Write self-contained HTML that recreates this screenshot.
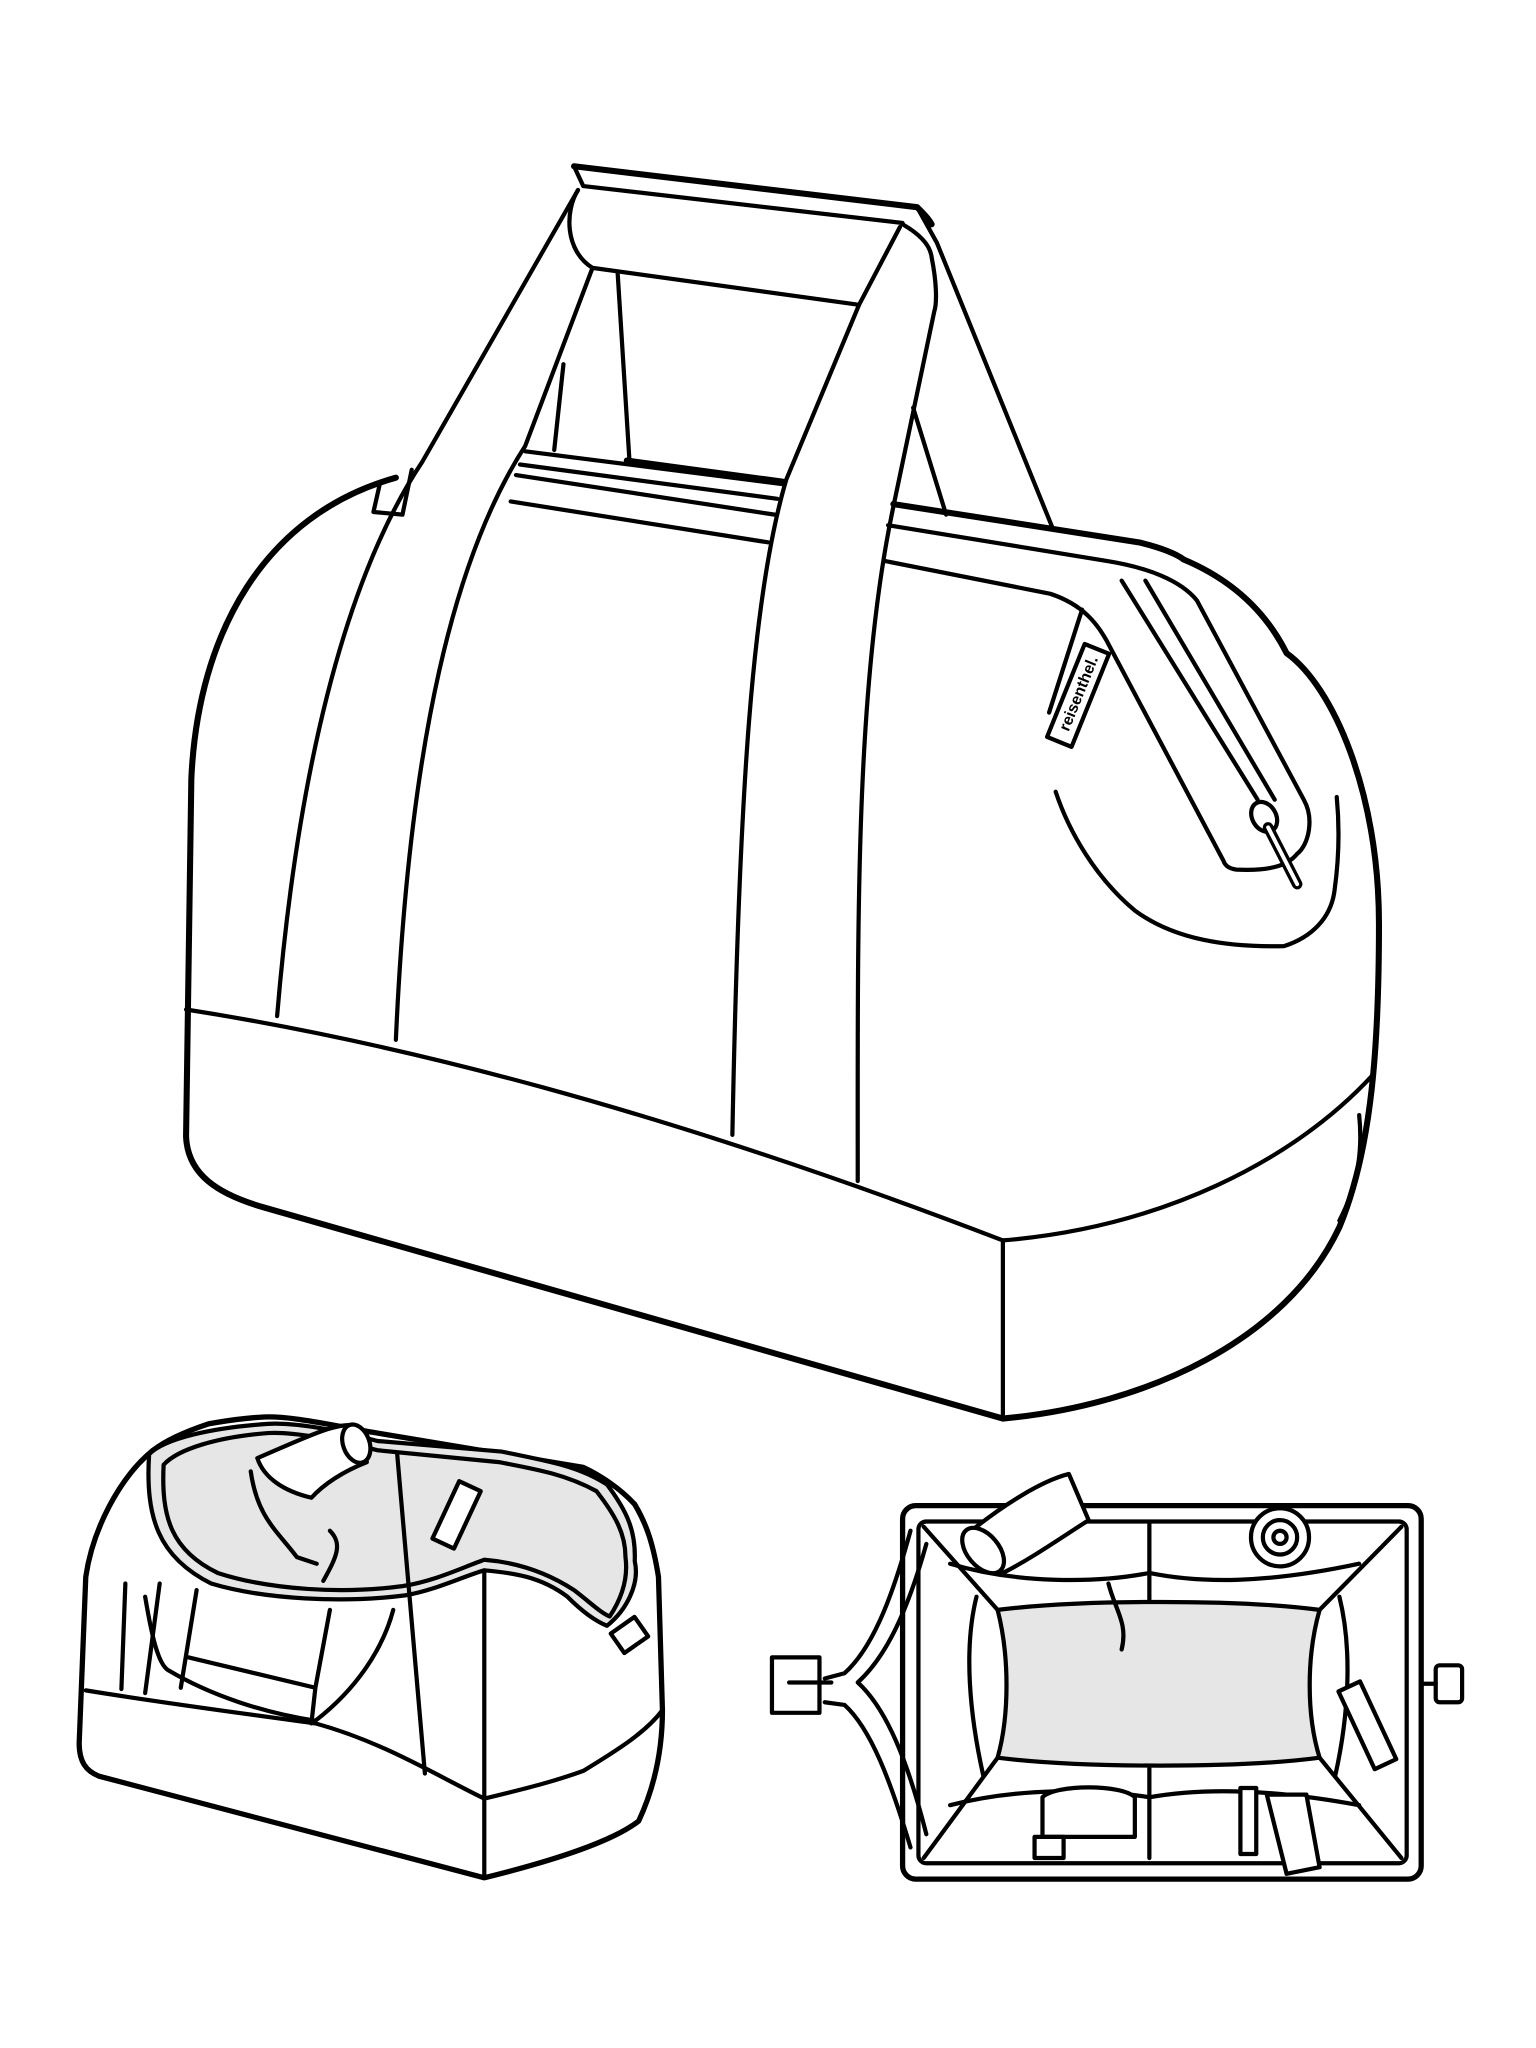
<!DOCTYPE html>
<html><head><meta charset="utf-8"><style>
html,body{margin:0;padding:0;background:#fff}
svg{display:block}
</style></head><body>
<svg width="1536" height="2048" viewBox="0 0 1164 1552" xmlns="http://www.w3.org/2000/svg">
<g fill="none" stroke="#000" stroke-width="3.2" stroke-linejoin="round" stroke-linecap="round">
<!-- main body outline -->
<path stroke-width="4.6" d="M300,362 C200,390 150,480 145,590 L141,861 C142,890 165,905 200,915 L760,1075 C870,1065 975,1015 1015,930 C1040,870 1045,790 1045,700 C1045,600 1010,520 975,495 C960,465 935,440 897,424"/>
<!-- tab -->
<path d="M288,366 L283,388 L305,390 L312,356"/>
<!-- bottom band -->
<path d="M141,765 C300,790 500,840 760,940 C880,930 980,880 1040,815"/>
<path d="M760,940 L760,1075"/>
<path d="M1030,845 C1033,875 1028,900 1015,925"/>
<!-- left strap -->
<path d="M438,144 L320,350 C260,440 225,590 210,770"/>
<path d="M449,203 L398,338 C345,420 310,560 300,788"/>
<!-- right strap -->
<path d="M682,172 L651,231 L596,363 C570,450 560,600 555,860"/>
<path d="M684,170 C698,178 705,186 706,195 C710,215 710,230 708,236 L677,384 C648,520 650,700 650,895"/>
<!-- handle -->
<path stroke-width="4.6" d="M435,126 L695,157 C700,162 704,166 706,170"/>
<path d="M435,126 L442,141 L684,169"/>
<path d="M438,144 C428,160 428,190 449,203 L651,231"/>
<path d="M695,157 L710,184 L798,401"/>
<path d="M692,309 L717,390"/>
<path d="M427,276 L420,341"/>
<path d="M468,206 L477,349"/>
<path stroke-width="4.6" d="M475,349 L593,365"/>
<!-- zipper lines left -->
<path d="M398,342 L594,367"/>
<path d="M394,352 L589,378"/>
<path d="M391,360 L587,390"/>
<path d="M387,380 L582,411"/>
<!-- zipper lines right -->
<path stroke-width="4.6" d="M677,382 L863,411 C880,415 892,420 897,424"/>
<path d="M673,398 L838,425 C870,430 895,440 907,455 L988,606 C996,620 992,640 983,647 C975,657 960,660 937,659 C930,658 928,655 927,652 L841,490 C832,472 820,458 796,450 L670,425"/>
<path d="M850,440 L953,606"/>
<path d="M868,440 L966,606"/>
<ellipse cx="958" cy="619" rx="9" ry="12" transform="rotate(-30 958 619)" fill="#fff"/>
<path d="M961,627 L983,670" stroke-width="8"/>
<path d="M961,627 L983,670" stroke="#fff" stroke-width="3"/>
<!-- side U curve -->
<path d="M800,600 C810,630 830,665 860,690 C890,712 930,718 973,717 C995,710 1008,695 1011,677 C1015,650 1015,625 1013,604"/>
<!-- seam through label -->
<path d="M820,462 L795,540"/>
<g transform="translate(817,527) rotate(22)">
<rect x="-10" y="-38" width="20" height="76" fill="#fff"/>
</g>
</g>
<text x="0" y="0" transform="translate(821,527) rotate(-68)" font-family="Liberation Sans, sans-serif" font-size="12" font-weight="bold" text-anchor="middle">reisenthel.</text>

<!-- bottom-left bag -->
<g fill="none" stroke="#000" stroke-width="3.2" stroke-linejoin="round" stroke-linecap="round">
<path stroke-width="4" d="M116,1099 C90,1120 70,1160 65,1195 L60,1321 C60,1335 65,1342 75,1346 L367,1423 C420,1410 465,1395 484,1380 C498,1350 502,1320 502,1296 L499,1195 C495,1170 490,1155 481,1140 C470,1128 455,1118 442,1112 L286,1086 C260,1082 220,1072 197,1074 C180,1075 170,1077 158,1079 C140,1085 125,1092 116,1099 Z" fill="#fff"/>
<path d="M113,1102 C110,1150 120,1180 160,1200 C200,1212 260,1215 307,1209 C330,1205 350,1195 367,1190 C390,1192 410,1195 430,1210 C440,1220 450,1228 460,1232 C475,1220 485,1200 481,1183 C482,1160 475,1145 460,1125 C440,1112 420,1108 380,1100 L286,1092 C250,1082 220,1078 203,1079 C160,1082 125,1090 113,1102 Z" fill="#e6e6e6"/>
<path d="M124,1110 C122,1150 130,1175 165,1192 C205,1205 260,1208 305,1202 C330,1198 350,1188 367,1182 C392,1184 415,1192 435,1205 C448,1215 455,1222 462,1225 C472,1210 476,1195 474,1180 C474,1162 466,1148 452,1130 C430,1118 410,1114 378,1108 L286,1099 C250,1090 220,1085 203,1086 C165,1089 135,1098 124,1110"/>
<path d="M65,1281 C120,1290 180,1298 239,1306 C290,1320 330,1345 367,1363 C400,1355 420,1350 442,1342 C470,1325 490,1312 502,1296"/>
<path d="M367,1363 L367,1423"/>
<path d="M301,1102 L322,1344"/>
<path d="M367,1190 L367,1363"/>
<path d="M110,1210 C115,1240 120,1262 128,1266 C160,1285 200,1298 239,1304 C270,1280 290,1250 298,1220"/>
<path d="M149,1205 L137,1279 M143,1256 L239,1279 L236,1306 M250,1220 L239,1279"/>
<path d="M95,1200 L92,1280 M121,1200 L110,1283"/>
<rect x="466" y="1230" width="22" height="18" transform="rotate(-35 477 1239)" fill="#fff"/>
<path d="M195,1105 C230,1090 250,1080 265,1080 L278,1108 C260,1115 245,1125 236,1135 C215,1130 200,1120 195,1105 Z" fill="#fff"/>
<ellipse cx="270" cy="1094" rx="10" ry="15" transform="rotate(-20 270 1094)" fill="#fff"/>
<path d="M190,1115 C195,1150 210,1160 225,1180 L240,1185"/>
<path d="M250,1160 C260,1170 255,1180 245,1198"/>
<rect x="337" y="1124" width="18" height="48" transform="rotate(25 346 1148)" fill="#fff"/>
</g>

<!-- bottom-right bag -->
<g fill="none" stroke="#000" stroke-width="3.2" stroke-linejoin="round" stroke-linecap="round">
<rect x="684" y="1141" width="393" height="283" rx="10" stroke-width="4" fill="#fff"/>
<rect x="696" y="1153" width="370" height="259" rx="6"/>
<path d="M690,1160 C675,1215 660,1250 640,1268 L625,1272 M625,1290 L640,1292 C660,1310 675,1350 690,1400"/>
<path d="M702,1170 C688,1220 672,1255 650,1275 C672,1295 688,1335 702,1390"/>
<rect x="585" y="1256" width="36" height="42" fill="#fff"/>
<path d="M598,1275 L630,1275"/>
<rect x="1088" y="1262" width="20" height="28" rx="3" fill="#fff"/>
<path d="M1077,1276 L1088,1276"/>
<path d="M700,1157 L756,1220 M1062,1157 L1000,1220 M700,1408 L756,1332 M1062,1408 L1000,1332"/>
<path d="M756,1220 C820,1212 940,1212 1000,1220 C990,1255 990,1300 1000,1332 C940,1340 820,1340 756,1332 C765,1300 765,1255 756,1220 Z" fill="#e6e6e6"/>
<path d="M740,1210 C730,1250 735,1300 745,1345"/>
<path d="M1015,1210 C1025,1250 1022,1300 1012,1345"/>
<path d="M871,1155 L871,1212 M871,1340 L871,1408"/>
<path d="M720,1185 C770,1200 830,1200 871,1192 C910,1200 960,1200 1030,1185"/>
<path d="M720,1368 C770,1355 830,1355 871,1362 C910,1355 960,1355 1030,1368"/>
<circle cx="970" cy="1165" r="22" fill="#fff"/>
<circle cx="970" cy="1165" r="13"/>
<circle cx="970" cy="1165" r="5"/>
<path d="M730,1165 C760,1140 790,1122 810,1117 L825,1152 C800,1168 780,1182 760,1192 Z" fill="#fff"/>
<ellipse cx="745" cy="1175" rx="12" ry="20" transform="rotate(-40 745 1175)" fill="#fff"/>
<path d="M840,1200 C845,1220 855,1230 850,1250"/>
<path d="M790,1362 C800,1352 850,1352 860,1362 L860,1392 L790,1392 Z" fill="#fff"/>
<rect x="784" y="1392" width="22" height="16" fill="#fff"/>
<rect x="940" y="1355" width="12" height="50" fill="#fff"/>
<path d="M960,1360 L990,1360 L1000,1415 L975,1420 Z" fill="#fff"/>
<rect x="1027" y="1275" width="18" height="65" transform="rotate(-25 1036 1307)" fill="#fff"/>
</g>
</svg>
</body></html>
